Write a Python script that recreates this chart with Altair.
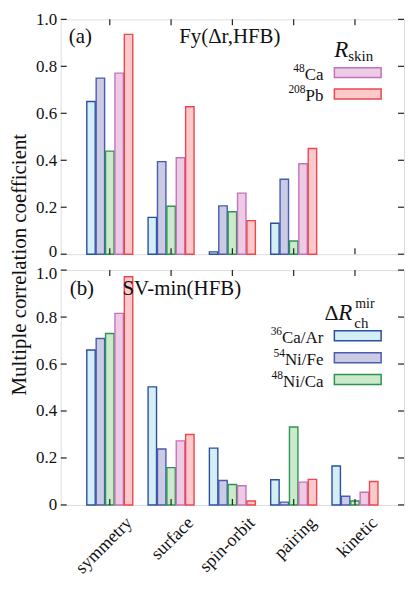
import altair as alt
import pandas as pd

categories = ["symmetry", "surface", "spin-orbit", "pairing", "kinetic"]
series = ["36Ca/Ar", "54Ni/Fe", "48Ni/Ca", "48Ca", "208Pb"]
sup_txt = ["36", "54", "48", "48", "208"]
base_txt = ["Ca/Ar", "Ni/Fe", "Ni/Ca", "Ca", "Pb"]
fills = ["#d4eef5", "#cbcbe6", "#cbe9cb", "#eecbe4", "#fccaca"]
strokes = ["#2c4f9e", "#4a5cae", "#2f9450", "#c472bc", "#ee4650"]

# panel (a): Fy(Δr,HFB)  -- no bars for "kinetic"
a_CaAr = [0.65, 0.157, 0.01, 0.132, None]
a_NiFe = [0.75, 0.394, 0.206, 0.319, None]
a_NiCa = [0.439, 0.204, 0.181, 0.056, None]
a_Ca48 = [0.771, 0.411, 0.26, 0.385, None]
a_Pb208 = [0.936, 0.628, 0.143, 0.45, None]

# panel (b): SV-min(HFB)
b_CaAr = [0.66, 0.503, 0.242, 0.107, 0.166]
b_NiFe = [0.709, 0.238, 0.104, 0.012, 0.037]
b_NiCa = [0.73, 0.159, 0.087, 0.332, 0.017]
b_Ca48 = [0.816, 0.273, 0.082, 0.097, 0.054]
b_Pb208 = [0.972, 0.30, 0.017, 0.109, 0.10]

yticks = [0, 0.2, 0.4, 0.6, 0.8, 1.0]

W, H = 345, 236
FONT = "Liberation Serif"
# approximate Times-like advance widths (em) for right-aligning superscripts
CW = {"C": .667, "a": .444, "/": .278, "A": .722, "r": .333, "N": .722,
      "i": .278, "F": .556, "e": .444, "P": .556, "b": .5}


def frame(lists):
    rows = []
    for s, vals in zip(series, lists):
        for c, v in zip(categories, vals):
            if v is not None:
                rows.append({"category": c, "series": s, "value": v})
    return pd.DataFrame(rows)


df_a = frame([a_CaAr, a_NiFe, a_NiCa, a_Ca48, a_Pb208])
df_b = frame([b_CaAr, b_NiFe, b_NiCa, b_Ca48, b_Pb208])
df_yt = pd.DataFrame({"v": yticks})
df_xt = pd.DataFrame({"category": categories})

xscale = alt.Scale(domain=categories, paddingInner=0.25, paddingOuter=0.425)
yscale = alt.Scale(domain=[0, 1], nice=False)


def txt(s, x, y, size=20, style="normal", align="left"):
    return alt.Chart(pd.DataFrame({"t": [s]})).mark_text(
        font=FONT, fontSize=size, fontStyle=style, align=align,
        baseline="alphabetic", color="#111",
    ).encode(text="t:N", x=alt.value(x), y=alt.value(y))


def legend(indices, y0, dy):
    layers = []
    for k, i in enumerate(indices):
        yc = y0 + k * dy
        layers.append(alt.Chart(pd.DataFrame({"s": [series[i]]})).mark_rect(
            fill=fills[i], stroke=strokes[i], strokeWidth=1.5,
        ).encode(x=alt.value(275), x2=alt.value(322),
                 y=alt.value(yc - 5), y2=alt.value(yc + 5)))
        bw = sum(CW.get(ch, 0.5) for ch in base_txt[i]) * 17
        layers.append(txt(base_txt[i], 264, yc + 7, 17, align="right"))
        layers.append(txt(sup_txt[i], 264 - bw, yc - 1, 11.5, align="right"))
    return layers


def panel(df, show_x, ytitle, edge_test, edge_shift):
    xaxis = alt.Axis(
        title=None, ticks=False, domain=False, labels=show_x,
        labelAngle=315, labelAlign="right", labelBaseline="middle",
        labelFont=FONT, labelFontSize=18, labelColor="#111",
        labelPadding=15, labelOffset=20,
    )
    yaxis = alt.Axis(
        values=yticks, ticks=False, domain=False, grid=False,
        labelFont=FONT, labelFontSize=17, labelColor="#111", labelPadding=4,
        labelOffset={"condition": {"test": edge_test, "value": edge_shift}, "value": 0},
        labelExpr="datum.value == 0 ? '0' : format(datum.value, '.1f')",
        title=ytitle if ytitle else None,
        titleFont=FONT, titleFontSize=21, titleFontWeight="normal",
        titleColor="#111", titlePadding=6, titleY=246,
    )
    bars = alt.Chart(df).mark_bar(strokeWidth=1.4, opacity=1).encode(
        x=alt.X("category:N", scale=xscale, sort=categories, axis=xaxis),
        xOffset=alt.XOffset("series:N", sort=series,
                            scale=alt.Scale(domain=series, paddingInner=0.1)),
        y=alt.Y("value:Q", scale=yscale, axis=yaxis),
        fill=alt.Fill("series:N", scale=alt.Scale(domain=series, range=fills), legend=None),
        stroke=alt.Stroke("series:N", scale=alt.Scale(domain=series, range=strokes), legend=None),
    )
    tl = alt.Chart(df_yt).mark_rule(color="#222", strokeWidth=1.2).encode(
        x=alt.value(0), x2=alt.value(6), y=alt.Y("v:Q", scale=yscale))
    tr = alt.Chart(df_yt).mark_rule(color="#222", strokeWidth=1.2).encode(
        x=alt.value(W - 6), x2=alt.value(W), y=alt.Y("v:Q", scale=yscale))
    tt = alt.Chart(df_xt).mark_rule(color="#222", strokeWidth=1.2).encode(
        x=alt.X("category:N", scale=xscale, bandPosition=0.5),
        y=alt.value(0), y2=alt.value(6))
    tb = alt.Chart(df_xt).mark_rule(color="#222", strokeWidth=1.2).encode(
        x=alt.X("category:N", scale=xscale, bandPosition=0.5),
        y=alt.value(H - 6), y2=alt.value(H))
    return [bars, tl, tr, tt, tb]


pa = alt.layer(
    *panel(df_a, False, "Multiple correlation coefficient", "datum.value == 0", -3),
    txt("(a)", 8, 24, 21), txt("Fy(Δr,HFB)", 119, 24, 21),
    txt("R", 275, 38, 23, "italic"), txt("skin", 289, 42, 15),
    *legend([3, 4], 53.5, 21.5),
).properties(width=W, height=H)
pb = alt.layer(
    *panel(df_b, True, None, "datum.value == 1", 3),
    txt("(b)", 9, 25, 21), txt("SV-min(HFB)", 62, 25, 21),
    txt("Δ", 265, 50, 22), txt("R", 279, 50, 23, "italic"),
    txt("mir", 296, 38, 14), txt("ch", 295, 58, 15),
    *legend([0, 1, 2], 66, 22),
).properties(width=W, height=H)

chart = alt.vconcat(pa, pb, spacing=16, bounds="flush").resolve_scale(
    fill="independent", stroke="independent"
).properties(
    padding={"left": 0, "top": 0, "right": 1, "bottom": 0}
).configure_view(stroke="#1a1a1a", strokeWidth=1.6).configure(background="white")

chart.save("out.html", embed_options={"renderer": "svg", "actions": False})
